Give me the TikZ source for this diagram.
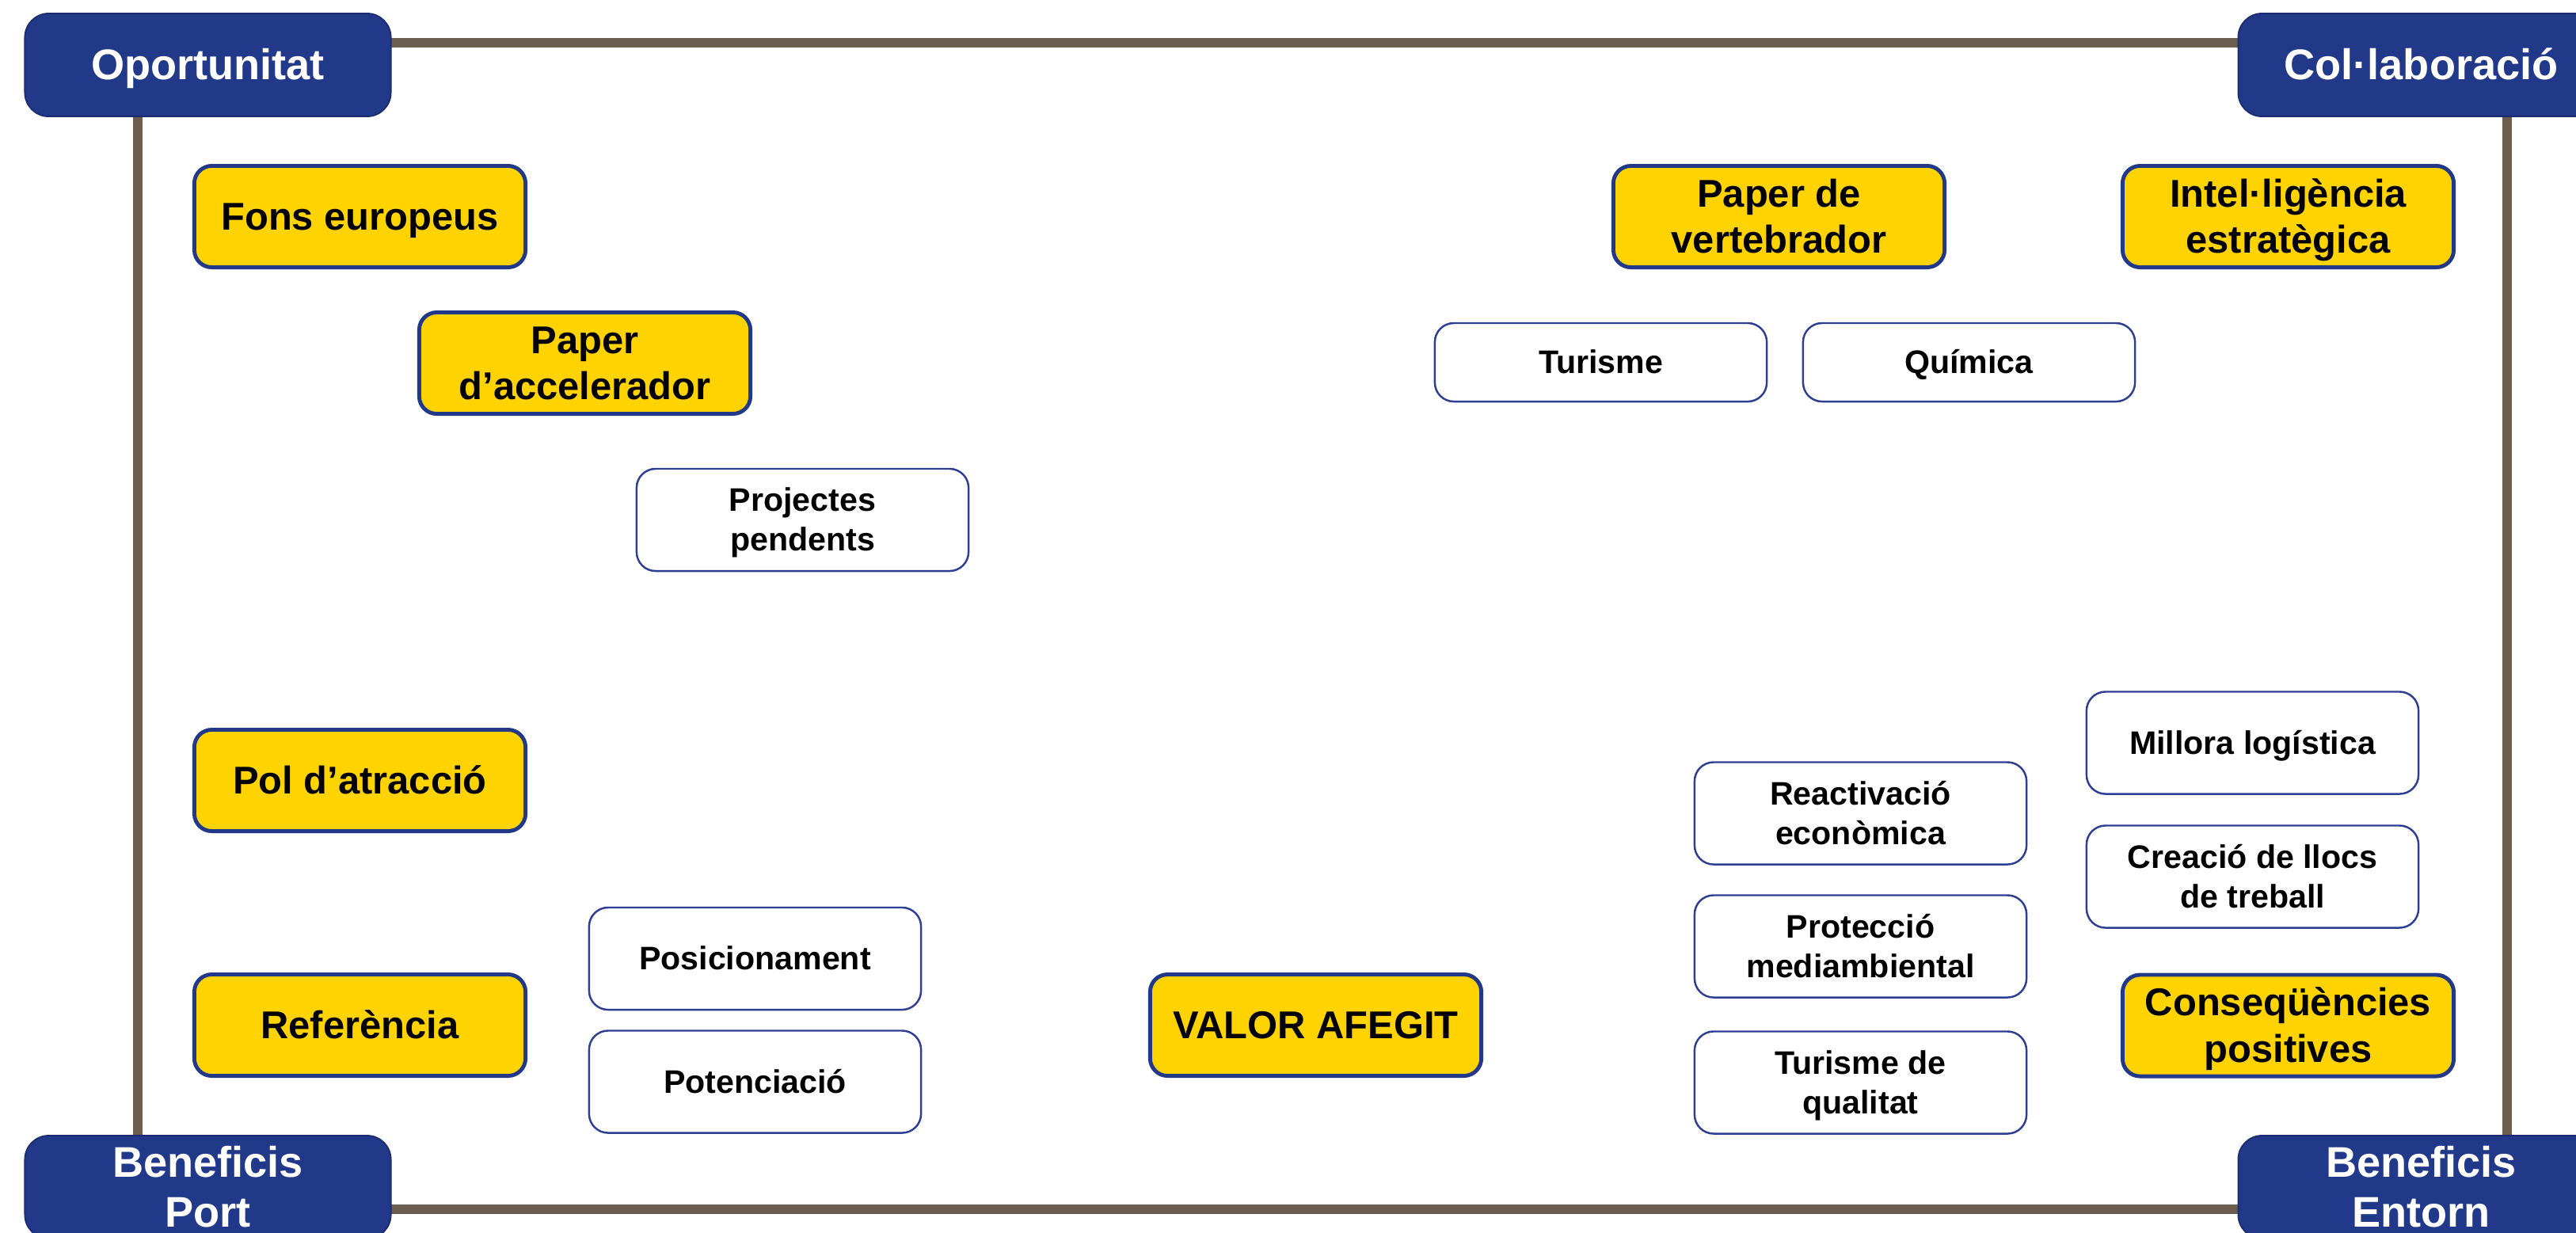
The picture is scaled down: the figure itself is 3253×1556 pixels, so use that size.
\documentclass[tikz,border=0pt]{standalone}
\usepackage{fontspec}
\setmainfont{Liberation Sans}
\definecolor{navy}{HTML}{22398A}
\definecolor{navyedge}{HTML}{1A2C6E}
\definecolor{gold}{HTML}{FFD300}
\definecolor{frame}{HTML}{6B5D50}
\definecolor{thinblue}{HTML}{2E3F93}
\newcommand{\ls}{\rule[-0.212em]{0pt}{1.117em}}
\tikzset{
  struts/.style={execute at begin node=\ls, execute at end node=\ls},
  cornerbox/.style={struts, draw=navyedge, line width=0.5pt, fill=navy, rounded corners=0.3cm,
    minimum width=4.62cm, minimum height=1.30cm, inner sep=0pt, align=center,
    text=white, font=\bfseries\fontsize{15.4}{18.0}\selectfont},
  keybox/.style={struts, draw=navy, line width=1.4pt, fill=gold, rounded corners=0.22cm,
    minimum width=4.18cm, minimum height=1.28cm, inner sep=0pt, align=center,
    text=black, font=\bfseries\fontsize{13.9}{16.7}\selectfont},
  itembox/.style={struts, draw=thinblue, line width=0.7pt, fill=white, rounded corners=0.24cm,
    minimum width=4.19cm, minimum height=1.29cm, inner sep=0pt, align=center,
    text=black, font=\bfseries\fontsize{11.7}{14.3}\selectfont},
  frameline/.style={draw=frame, line width=3.2pt}
}
\begin{document}
\begin{tikzpicture}[x=0.01cm,y=-0.01cm]
\useasboundingbox (0,0) rectangle (3253,1556);
\fill[white] (0,0) rectangle (3253,1556);
% frame
\coordinate (ftl) at (174,54);
\coordinate (ftr) at (3166,54);
\coordinate (fbr) at (3166,1527);
\coordinate (fbl) at (174,1527);
\draw[frameline] (ftl) -- (ftr) -- (fbr) -- (fbl) -- cycle;
% corner boxes
\node[cornerbox] (op) at (262.5,82) {Oportunitat};
\node[cornerbox] (col) at (3057.5,82) {Col·laboració};
\node[cornerbox] (bp) at (262.5,1499) {\ls Beneficis\\Port\ls};
\node[cornerbox] (be) at (3057.5,1499) {\ls Beneficis\\Entorn\ls};
% key boxes
\node[keybox] (fons) at (454.5,273.5) {Fons europeus};
\node[keybox] (acc) at (738.5,458.5) {\ls Paper\\d’accelerador\ls};
\node[keybox] (pol) at (454.5,985.5) {Pol d’atracció};
\node[keybox] (ref) at (454.5,1294.5) {Referència};
\node[keybox] (valor) at (1661.5,1294.5) {VALOR AFEGIT};
\node[keybox] (vert) at (2246.5,273.5) {\ls Paper de\\vertebrador\ls};
\node[keybox] (intel) at (2889.5,273.5) {\ls Intel·ligència\\estratègica\ls};
\node[keybox] (cons) at (2889.5,1295) {\ls Conseqüències\\positives\ls};
% item boxes
\node[itembox] (proj) at (1013.5,656.5) {\ls Projectes\\pendents\ls};
\node[itembox, minimum height=0.99cm] (tur) at (2021.5,457.5) {Turisme};
\node[itembox, minimum height=0.99cm] (quim) at (2486.5,457.5) {Química};
\node[itembox] (pos) at (953.5,1210.5) {Posicionament};
\node[itembox] (pot) at (953.5,1366) {Potenciació};
\node[itembox] (reac) at (2349.5,1027) {\ls Reactivació\\econòmica\ls};
\node[itembox] (prot) at (2349.5,1195) {\ls Protecció\\mediambiental\ls};
\node[itembox] (turq) at (2349.5,1367) {\ls Turisme de\\qualitat\ls};
\node[itembox] (mill) at (2844.5,938) {Millora logística};
\node[itembox] (crea) at (2844.5,1107) {\ls Creació de llocs\\de treball\ls};
\end{tikzpicture}
\end{document}
